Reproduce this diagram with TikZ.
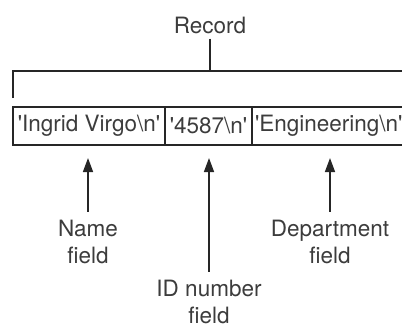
\documentclass[tikz,border=0pt]{standalone}
\usepackage{fontspec}
\setmainfont{TeX Gyre Heros}
\usetikzlibrary{positioning, arrows.meta}
\definecolor{recline}{HTML}{262626}
\definecolor{rectext}{HTML}{3C3C3C}
\newcommand{\sq}{\textquotesingle}

\begin{document}
\begin{tikzpicture}[
    x=1pt, y=-1pt,
    every node/.style={font=\fontsize{22.5}{27}\selectfont, text=rectext},
    wire/.style={draw=recline, line width=1.5pt},
    fieldbox/.style={wire, line width=1.7pt, minimum height=38pt, inner sep=0pt, outer sep=0pt},
    lbl/.style={align=center, inner sep=1pt},
    >={Triangle[length=14pt, width=10pt]}
]

\useasboundingbox (0,0) rectangle (402,327);
\clip (0,0) rectangle (402,327);

% Record bracket
\node[inner sep=5pt] (record) at (210,25) {Record};
\coordinate (top) at (210,71);
\coordinate (left) at (13,98);
\coordinate (right) at (410,71);
\draw[wire] (record.south) -- (top);
\draw[wire] (left) -- (left |- top) -- (right);

% Fields
\node[fieldbox, anchor=west, minimum width=152pt] (namebox) at (13,126) {\sq Ingrid Virgo\textbackslash n\sq};
\node[fieldbox, minimum width=87pt, right=0pt of namebox] (idbox) {\sq 4587\textbackslash n\sq};
\node[fieldbox, inner xsep=3pt, right=0pt of idbox] (deptbox) {\sq Engineering\textbackslash n\sq};

% Labels
\node[lbl] (namelbl) at (88,242) {Name\\field};
\node[lbl] (idlbl) at (209,302) {ID number\\field};
\node[lbl] (deptlbl) at (330,242) {Department\\field};

\draw[wire, ->, shorten <=7pt, shorten >=13pt] (namelbl.north) -- (namelbl.north |- namebox.south);
\draw[wire, ->, shorten <=7pt, shorten >=13pt] (idlbl.north) -- (idlbl.north |- idbox.south);
\draw[wire, ->, shorten <=7pt, shorten >=13pt] (deptlbl.north) -- (deptlbl.north |- deptbox.south);

\end{tikzpicture}
\end{document}
